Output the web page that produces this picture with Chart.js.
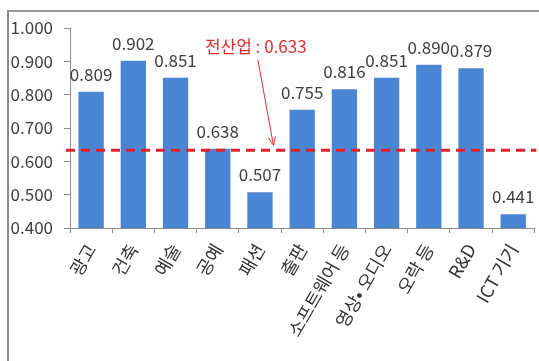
<!DOCTYPE html>
<html><head><meta charset="utf-8">
<script src="https://cdn.jsdelivr.net/npm/chart.js@4.4.1/dist/chart.umd.min.js"></script>
<style>
html,body{margin:0;padding:0;background:#fff;}
#wrap{position:relative;width:539px;height:361px;}
#frame{position:absolute;left:7px;top:10px;right:0;bottom:0;border-left:2px solid #8a8a8a;border-top:2px solid #9a9a9a;}
canvas{position:absolute;left:0;top:0;}
</style></head>
<body>
<div id="wrap"><div id="frame"></div><canvas id="c" width="539" height="361"></canvas></div>
<script>
const categories = ['광고','건축','예술','공예','패션','출판','소프트웨어 등','영상• 오디오','오락 등','R&D','ICT 기기'];
const values = [0.809,0.902,0.851,0.638,0.507,0.755,0.816,0.851,0.890,0.879,0.441];
const allIndustry = 0.633;
const allIndustryLabel = '전산업 : 0.633';
const yTicks = [0.4,0.5,0.6,0.7,0.8,0.9,1.0];

const FONT = '"Noto Sans CJK KR","Noto Sans",sans-serif';

const overlay = {
  id:'overlay',
  afterDatasetsDraw(chart){
    const {ctx, chartArea, scales:{x,y}} = chart;
    ctx.save();
    // value labels
    ctx.font = '17px ' + FONT;
    ctx.fillStyle = '#404040';
    ctx.textAlign = 'center';
    ctx.textBaseline = 'alphabetic';
    const meta = chart.getDatasetMeta(0);
    meta.data.forEach((bar,i)=>{
      ctx.fillText(values[i].toFixed(3), bar.x, bar.y - 11);
    });
    // dashed average line
    const yy = y.getPixelForValue(allIndustry);
    ctx.strokeStyle = '#e0202a';
    ctx.lineWidth = 3;
    ctx.setLineDash([9,6]);
    ctx.beginPath();
    ctx.moveTo(chartArea.left - 4, yy);
    ctx.lineTo(chartArea.right + 2, yy);
    ctx.stroke();
    ctx.setLineDash([]);
    // annotation text
    const tx = x.getPixelForValue(3.9);
    const ty = y.getPixelForValue(0.945);
    ctx.font = '17px ' + FONT;
    ctx.fillStyle = '#e03030';
    ctx.textAlign = 'center';
    ctx.textBaseline = 'middle';
    ctx.fillText(allIndustryLabel, tx, ty);
    // arrow
    const ax0 = x.getPixelForValue(3.95), ay0 = y.getPixelForValue(0.905);
    const ax1 = x.getPixelForValue(4.32), ay1 = y.getPixelForValue(0.648);
    ctx.strokeStyle = '#e03030';
    ctx.lineWidth = 1;
    ctx.beginPath();
    ctx.moveTo(ax0, ay0); ctx.lineTo(ax1, ay1); ctx.stroke();
    const ang = Math.atan2(ay1-ay0, ax1-ax0);
    const hl = 9;
    ctx.beginPath();
    ctx.moveTo(ax1 - hl*Math.cos(ang-0.4), ay1 - hl*Math.sin(ang-0.4));
    ctx.lineTo(ax1, ay1);
    ctx.lineTo(ax1 - hl*Math.cos(ang+0.4), ay1 - hl*Math.sin(ang+0.4));
    ctx.stroke();
    ctx.restore();
  }
};

new Chart(document.getElementById('c'), {
  type:'bar',
  data:{labels:categories, datasets:[{data:values, backgroundColor:'#4a86d4', barPercentage:0.6, categoryPercentage:1.0}]},
  options:{
    responsive:false, animation:false,
    layout:{padding:{top:28,right:1,left:0,bottom:0}},
    plugins:{legend:{display:false}, tooltip:{enabled:false}},
    scales:{
      x:{
        grid:{offset:true, drawOnChartArea:false, tickLength:5, color:'#8a8a8a'},
        border:{color:'#8a8a8a'},
        ticks:{font:{family:FONT,size:18}, color:'#333', minRotation:60, maxRotation:60, padding:7, autoSkip:false},
        afterFit(s){ s.height = 133; }
      },
      y:{
        min:0.4, max:1.0,
        afterBuildTicks(s){ s.ticks = yTicks.map(v=>({value:v})); },
        grid:{drawOnChartArea:false, tickLength:6, color:'#8a8a8a'},
        border:{color:'#8a8a8a'},
        ticks:{font:{family:FONT,size:17}, color:'#404040', padding:11, callback:v=>Number(v).toFixed(3)},
        afterFit(s){ s.width = 70; }
      }
    }
  },
  plugins:[overlay]
});
</script>
</body></html>
